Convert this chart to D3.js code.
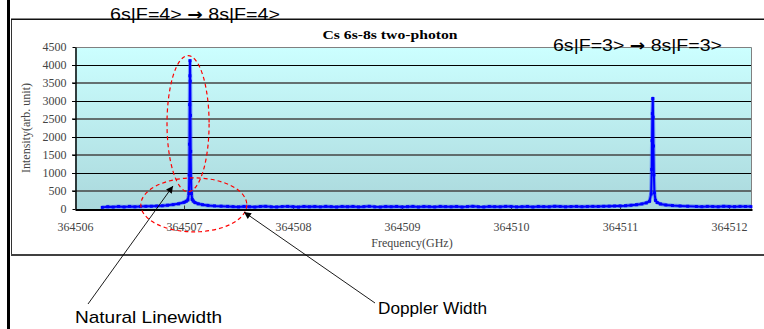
<!DOCTYPE html>
<html>
<head>
<meta charset="utf-8">
<script src="https://cdn.jsdelivr.net/npm/d3@7"></script>
<style>
  html, body { margin: 0; padding: 0; background: #fff; }
  svg { display: block; }
</style>
</head>
<body>
<svg id="chart" width="764" height="329"></svg>
<script>
// Two-photon scan: laser frequency (GHz) and detected intensity (arb. unit)
const frequency = [
  364506.25, 364506.30, 364506.35, 364506.40, 364506.45, 364506.50, 364506.55, 364506.60,
  364506.65, 364506.70, 364506.75, 364506.80, 364506.85, 364506.90, 364506.95, 364507.00,
  364507.02, 364507.035, 364507.045, 364507.048, 364507.050, 364507.052, 364507.054, 364507.055,
  364507.057, 364507.059, 364507.061, 364507.064, 364507.068, 364507.075, 364507.085, 364507.10,
  364507.13, 364507.17, 364507.22, 364507.28, 364507.34, 364507.40,
  364507.45, 364507.50, 364507.55, 364507.60, 364507.65, 364507.70, 364507.75, 364507.80,
  364507.85, 364507.90, 364507.95, 364508.00, 364508.05, 364508.10, 364508.15, 364508.20,
  364508.25, 364508.30, 364508.35, 364508.40, 364508.45, 364508.50, 364508.55, 364508.60,
  364508.65, 364508.70, 364508.75, 364508.80, 364508.85, 364508.90, 364508.95, 364509.00,
  364509.05, 364509.10, 364509.15, 364509.20, 364509.25, 364509.30, 364509.35, 364509.40,
  364509.45, 364509.50, 364509.55, 364509.60, 364509.65, 364509.70, 364509.75, 364509.80,
  364509.85, 364509.90, 364509.95, 364510.00, 364510.05, 364510.10, 364510.15, 364510.20,
  364510.25, 364510.30, 364510.35, 364510.40, 364510.45, 364510.50, 364510.55, 364510.60,
  364510.65, 364510.70, 364510.75, 364510.80, 364510.85, 364510.90, 364510.95,
  364511.00, 364511.05, 364511.10, 364511.15, 364511.20, 364511.24, 364511.27, 364511.285,
  364511.290, 364511.293, 364511.296, 364511.300, 364511.303, 364511.306, 364511.310, 364511.315,
  364511.325, 364511.34, 364511.37, 364511.42, 364511.48, 364511.55, 364511.62,
  364511.70, 364511.75, 364511.80, 364511.85, 364511.90, 364511.95, 364512.00, 364512.05,
  364512.10, 364512.15, 364512.20
];
const intensity = [
  45, 62, 54, 68, 57, 71, 60, 67,
  73, 76, 82, 90, 105, 122, 145, 185,
  215, 250, 430, 950, 1800, 2900, 3700, 4120,
  3550, 2600, 1600, 850, 430, 265, 220, 180,
  145, 120, 100, 86, 78, 72,
  65, 58, 70, 62, 55, 68, 73, 60,
  57, 66, 71, 63, 54, 69, 61, 67,
  59, 72, 64, 56, 68, 62, 70, 58,
  65, 73, 60, 55, 67, 62, 70, 58,
  64, 71, 56, 67, 63, 58, 71, 65,
  60, 68, 55, 66, 73, 62, 57, 69,
  64, 60, 72, 67, 59, 63, 70, 56,
  68, 65, 61, 74, 69, 60, 66, 71,
  63, 67, 72, 70, 74, 78, 82,
  86, 92, 104, 120, 142, 170, 215, 420,
  1100, 1900, 2650, 3070, 2550, 1750, 950, 450,
  240, 180, 140, 112, 96, 84, 76,
  70, 64, 72, 67, 62, 74, 68, 65,
  72, 69, 66
];

const yTicks = [0, 500, 1000, 1500, 2000, 2500, 3000, 3500, 4000, 4500];
const xTicks = [364506, 364507, 364508, 364509, 364510, 364511, 364512];

const chartTitle = "Cs 6s-8s two-photon";
const xTitle = "Frequency(GHz)";
const yTitle = "Intensity(arb. unit)";
const transitionF4 = ["6s|F=4>", "8s|F=4>"];
const transitionF3 = ["6s|F=3>", "8s|F=3>"];

const svg = d3.select("#chart");
const serif = "'Liberation Serif', 'Times New Roman', serif";
const sans = "'Liberation Sans', Arial, sans-serif";

// Plot geometry
const plot = { left: 75, right: 752, top: 47, bottom: 209 };
const x = d3.scaleLinear().domain([364506, 364512.21]).range([plot.left, plot.right]);
const y = d3.scaleLinear().domain([0, 4500]).range([plot.bottom, plot.top]);

// Page frame: heavy rule on the left, chart box
svg.append("rect").attr("x", 7).attr("y", 0).attr("width", 3).attr("height", 329).attr("fill", "#000");
svg.append("line").attr("x1", 11.5).attr("x2", 11.5).attr("y1", 19).attr("y2", 254)
  .attr("stroke", "#333").attr("stroke-width", 1);
svg.append("line").attr("x1", 11).attr("x2", 764).attr("y1", 19.25).attr("y2", 19.25)
  .attr("stroke", "#111").attr("stroke-width", 1.5);
svg.append("line").attr("x1", 11).attr("x2", 764).attr("y1", 255).attr("y2", 255)
  .attr("stroke", "#404040").attr("stroke-width", 2);

// Plot area gradient fill
const defs = svg.append("defs");
const grad = defs.append("linearGradient").attr("id", "plotFill")
  .attr("x1", 0).attr("y1", 0).attr("x2", 0).attr("y2", 1);
grad.append("stop").attr("offset", "0%").attr("stop-color", "#ccffff");
grad.append("stop").attr("offset", "100%").attr("stop-color", "#aad8dc");

defs.append("marker").attr("id", "arrowHead")
  .attr("viewBox", "0 0 10 10").attr("refX", 10).attr("refY", 5)
  .attr("markerWidth", 8).attr("markerHeight", 7).attr("markerUnits", "userSpaceOnUse")
  .attr("orient", "auto")
  .append("path").attr("d", "M0,0 L10,5 L0,10 Z").attr("fill", "#000");

svg.append("rect")
  .attr("x", plot.left).attr("y", plot.top)
  .attr("width", plot.right - plot.left).attr("height", plot.bottom - plot.top)
  .attr("fill", "url(#plotFill)");

// Horizontal gridlines
svg.append("g").selectAll("line")
  .data(yTicks.filter(v => v > 0 && v < 4500))
  .join("line")
  .attr("x1", plot.left - 3).attr("x2", plot.right)
  .attr("y1", d => (d % 1000 === 0) ? y(d) + 0.5 : y(d))
  .attr("y2", d => (d % 1000 === 0) ? y(d) + 0.5 : y(d))
  .attr("stroke", d => (d % 1000 === 0) ? "#000" : "#444")
  .attr("stroke-width", d => (d % 1000 === 0) ? 1 : 1.4);

// Plot border (top / right)
svg.append("path")
  .attr("d", `M${plot.left},${plot.top + 0.5} H${plot.right - 0.5} V${plot.bottom}`)
  .attr("fill", "none").attr("stroke", "#808080").attr("stroke-width", 1);

// Y axis
const yAxis = svg.append("g")
  .attr("transform", `translate(${plot.left + 0.5},0)`)
  .call(d3.axisLeft(y).tickValues(yTicks).tickFormat(d3.format("d"))
    .tickSizeInner(3).tickSizeOuter(0).tickPadding(6));
yAxis.select(".domain").attr("stroke", "#000").attr("stroke-width", 1.5);
yAxis.selectAll(".tick line").attr("stroke", "#000");
yAxis.selectAll(".tick text")
  .attr("font-family", serif).attr("font-size", 12).attr("fill", "#444");

// X axis (ticks point inward)
const xAxis = svg.append("g")
  .attr("transform", `translate(0,${plot.bottom + 0.5})`)
  .call(d3.axisBottom(x).tickValues(xTicks).tickFormat(d3.format("d"))
    .tickSizeInner(-4).tickSizeOuter(0).tickPadding(13));
xAxis.select(".domain").attr("stroke", "#000").attr("stroke-width", 2);
xAxis.selectAll(".tick line").attr("stroke", "#333");
xAxis.selectAll(".tick text")
  .attr("font-family", serif).attr("font-size", 12).attr("fill", "#444");

// Spectrum trace
const pts = frequency.map((f, i) => [f, intensity[i]]);
const line = d3.line().x(d => x(d[0])).y(d => y(d[1]));
svg.append("path").datum(pts)
  .attr("d", line).attr("fill", "none")
  .attr("stroke", "rgba(40,70,255,0.45)").attr("stroke-width", 4)
  .attr("stroke-linejoin", "round");
svg.append("path").datum(pts)
  .attr("d", line).attr("fill", "none")
  .attr("stroke", "#0000ff").attr("stroke-width", 2)
  .attr("stroke-linejoin", "round");
svg.append("g").selectAll("rect")
  .data(pts).join("rect")
  .attr("x", d => x(d[0]) - 1.5).attr("y", d => y(d[1]) - 1.5)
  .attr("width", 3).attr("height", 3).attr("fill", "#0000ff");

// Annotation ellipses (natural linewidth spike, Doppler pedestal)
const ellipses = [
  { f: 364507.037, v: 2370, df: 0.193, dv: 1890 },
  { f: 364507.09, v: 115, df: 0.486, dv: 750 }
];
svg.append("g").selectAll("ellipse")
  .data(ellipses).join("ellipse")
  .attr("cx", d => x(d.f)).attr("cy", d => y(d.v))
  .attr("rx", d => x(d.f + d.df) - x(d.f))
  .attr("ry", d => y(0) - y(d.dv))
  .attr("fill", "none").attr("stroke", "#ff0000")
  .attr("stroke-width", 1.2).attr("stroke-dasharray", "4,3");

// Callout arrows
const callouts = [
  { text: "Natural Linewidth", tx: 75, ty: 323, w: 147, sx: 88, sy: 304, f: 364506.899, v: 640 },
  { text: "Doppler Width", tx: 378, ty: 314, w: 109, sx: 375, sy: 303, f: 364507.55, v: -85 }
];
svg.append("g").selectAll("line")
  .data(callouts).join("line")
  .attr("x1", d => d.sx).attr("y1", d => d.sy)
  .attr("x2", d => x(d.f)).attr("y2", d => y(d.v))
  .attr("stroke", "#000").attr("stroke-width", 0.9)
  .attr("marker-end", "url(#arrowHead)");
svg.append("g").selectAll("text")
  .data(callouts).join("text")
  .attr("x", d => d.tx).attr("y", d => d.ty)
  .attr("font-family", sans).attr("font-size", 17).attr("fill", "#000")
  .attr("textLength", d => d.w).attr("lengthAdjust", "spacingAndGlyphs")
  .text(d => d.text);

// Titles
svg.append("text")
  .attr("x", 390).attr("y", 39).attr("text-anchor", "middle")
  .attr("font-family", serif).attr("font-size", 12).attr("font-weight", "bold")
  .attr("textLength", 135).attr("lengthAdjust", "spacingAndGlyphs")
  .text(chartTitle);
svg.append("text")
  .attr("x", 412).attr("y", 247).attr("text-anchor", "middle")
  .attr("font-family", serif).attr("font-size", 12).attr("fill", "#444")
  .text(xTitle);
svg.append("text")
  .attr("transform", "translate(30,128) rotate(-90)").attr("text-anchor", "middle")
  .attr("font-family", serif).attr("font-size", 12).attr("fill", "#444")
  .text(yTitle);

// Transition labels: "lower → upper" with a heavier arrow glyph
function transitionLabel(parts, px, py, width) {
  const t = svg.append("text")
    .attr("x", px).attr("y", py)
    .attr("font-family", sans).attr("font-size", 17).attr("fill", "#000")
    .attr("textLength", width).attr("lengthAdjust", "spacingAndGlyphs");
  t.append("tspan").text(parts[0] + " ");
  t.append("tspan").attr("font-family", "'DejaVu Sans', sans-serif")
    .attr("font-weight", "bold").attr("font-size", 16).text("\u2192");
  t.append("tspan").text(" " + parts[1]);
}
transitionLabel(transitionF4, 110, 20, 170);
transitionLabel(transitionF3, 553, 51, 169);
</script>
</body>
</html>
